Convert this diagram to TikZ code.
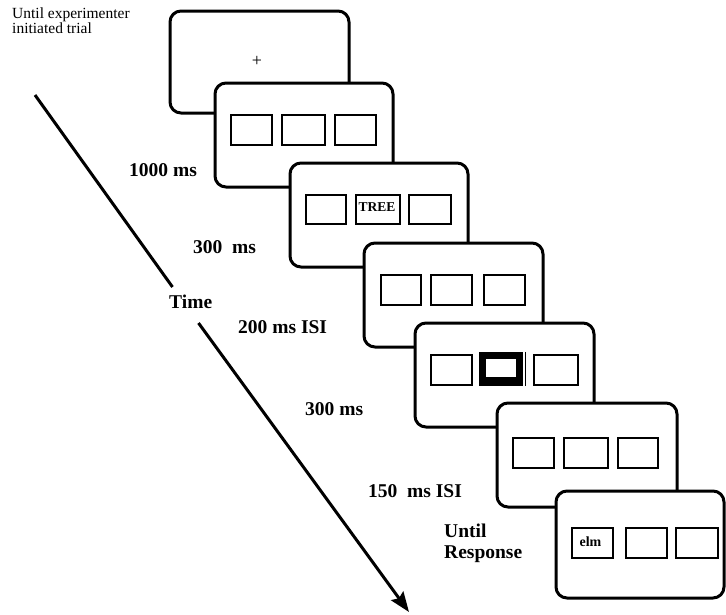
\documentclass[tikz,border=0pt]{standalone}
\usepackage{fontspec}
\setmainfont{Liberation Serif}
\usetikzlibrary{arrows.meta}
\begin{document}
\begin{tikzpicture}[x=1pt,y=-1pt,
  frame/.style={draw, fill=white, line width=3pt, rounded corners=11pt, inner sep=0pt},
  box/.style={draw, line width=2pt, inner sep=0pt, minimum height=30pt},
  lbl/.style={font=\fontsize{19.5}{22}\selectfont\bfseries, anchor=base west, inner sep=0pt},
  small/.style={font=\fontsize{15.5}{18}\selectfont, anchor=base west, inner sep=0pt},
  boxtext/.style={font=\fontsize{13.5}{15}\selectfont\bfseries, anchor=base, inner sep=0pt},
  timeline/.style={line width=3pt}]
\useasboundingbox (0,0) rectangle (726,614);
% frames
\node[frame, minimum width=179pt, minimum height=102pt] (f1) at (259.5,62) {};
\node[font=\fontsize{18}{20}\selectfont, inner sep=0pt] (plus) at (257,61) {+};
\node[frame, minimum width=178pt, minimum height=104pt] (f2) at (304,135) {};
\node[box, minimum width=41pt] (b21) at (251.5,130) {};
\node[box, minimum width=43pt] (b22) at (303.5,130) {};
\node[box, minimum width=41pt] (b23) at (355.5,130) {};
\node[frame, minimum width=178pt, minimum height=104pt] (f3) at (379,215) {};
\node[box, minimum width=40pt, minimum height=29pt] (b31) at (326,209.5) {};
\node[box, minimum width=44pt, minimum height=29pt] (b32) at (378,209.5) {};
\node[box, minimum width=42pt, minimum height=29pt] (b33) at (430,209.5) {};
\node[boxtext] (tree) at (377,211) {TREE};
\node[frame, minimum width=179pt, minimum height=104pt] (f4) at (453.5,295) {};
\node[box, minimum width=40pt] (b41) at (401,290) {};
\node[box, minimum width=41pt] (b42) at (451.5,290) {};
\node[box, minimum width=41pt] (b43) at (504.5,290) {};
\node[frame, minimum width=179pt, minimum height=104pt] (f5) at (504.5,375) {};
\node[box, minimum width=41pt] (b51) at (451.5,370) {};
\node[fill=black, inner sep=0pt, minimum width=44pt, minimum height=34pt] (b52) at (501,369) {};
\node[fill=white, inner sep=0pt, minimum width=30pt, minimum height=18pt] (b52i) at (501,368) {};
\draw[line width=1pt] ([xshift=2pt]b52.north east) -- ([xshift=2pt]b52.south east);
\node[box, minimum width=44pt] (b53) at (556,370) {};
\node[frame, minimum width=180pt, minimum height=104pt] (f6) at (587,455) {};
\node[box, minimum width=41pt] (b61) at (533.5,453) {};
\node[box, minimum width=44pt] (b62) at (586,453) {};
\node[box, minimum width=40pt] (b63) at (638,453) {};
\node[frame, minimum width=168pt, minimum height=107pt] (f7) at (640,544.5) {};
\node[box, minimum width=41pt] (b71) at (592.5,543) {};
\node[box, minimum width=41pt] (b72) at (646.5,543) {};
\node[box, minimum width=42pt] (b73) at (697,543) {};
\node[font=\fontsize{14}{16}\selectfont\bfseries, anchor=base, inner sep=0pt] (elm) at (590.5,546) {elm};
% labels
\node[small] (u1) at (12,18) {Until experimenter};
\node[small] (u2) at (12,33) {initiated trial};
\node[lbl] (l1) at (129,176) {1000 ms};
\node[lbl] (l2) at (193,253) {300\ \ ms};
\node[lbl] (time) at (169,308) {Time};
\node[lbl] (l3) at (238,333) {200 ms ISI};
\node[lbl] (l4) at (305,415) {300 ms};
\node[lbl] (l5) at (368,497) {150\ \ ms ISI};
\node[lbl] (l6) at (444,537) {Until};
\node[lbl] (l7) at (444,558) {Response};
% time arrow
\coordinate (ts) at (35,95);
\coordinate (g1) at (172.5,287);
\coordinate (g2) at (198.5,323);
\coordinate (te) at (409,612);
\draw[timeline] (ts) -- (g1);
\draw[timeline, -{Stealth[length=20pt,width=15pt,inset=3pt]}] (g2) -- (te);
\end{tikzpicture}
\end{document}
